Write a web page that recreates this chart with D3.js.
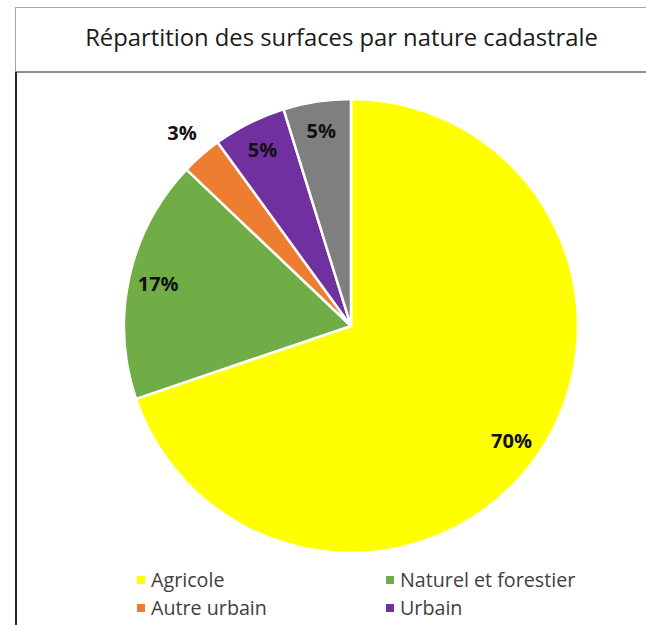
<!DOCTYPE html>
<html>
<head>
<meta charset="utf-8">
<title>Répartition des surfaces par nature cadastrale</title>
<script src="https://d3js.org/d3.v7.min.js"></script>
<style>
  body { margin: 0; background: #fff; }
  svg { display: block; font-family: "Open Sans", Lato, sans-serif; }
</style>
</head>
<body>
<script>

// données
var categories = ["Agricole", "Naturel et forestier", "Autre urbain", "Urbain", "Non cadastré"];
var values = [69.8, 17.3, 2.9, 5.2, 4.8];
var colors = ["#FFFF00", "#70AD47", "#ED7D31", "#7030A0", "#7F7F7F"];
var titleText = "Répartition des surfaces par nature cadastrale";

var W = 646, H = 625;
var cx = 351, cy = 326, R = 227;

var svg = d3.select("body").append("svg")
    .attr("width", W)
    .attr("height", H);

// cadre du titre
svg.append("line").attr("x1", 15).attr("x2", W).attr("y1", 7.5).attr("y2", 7.5)
    .attr("stroke", "#a6a6a6").attr("stroke-width", 1);
svg.append("line").attr("x1", 15.5).attr("x2", 15.5).attr("y1", 7).attr("y2", 72)
    .attr("stroke", "#a6a6a6").attr("stroke-width", 1);
svg.append("line").attr("x1", 15).attr("x2", W).attr("y1", 72).attr("y2", 72)
    .attr("stroke", "#8c8c8c").attr("stroke-width", 2);
// bord gauche de la zone graphique
svg.append("line").attr("x1", 16).attr("x2", 16).attr("y1", 72).attr("y2", H)
    .attr("stroke", "#262626").attr("stroke-width", 2);

svg.append("text")
    .attr("x", 341.5).attr("y", 46)
    .attr("text-anchor", "middle")
    .attr("font-size", 23.8)
    .attr("fill", "#1a1a1a")
    .text(titleText);

var data = categories.map(function (c, i) { return { name: c, value: values[i], color: colors[i] }; });

var pie = d3.pie().sort(null).value(function (d) { return d.value; });
var arc = d3.arc().innerRadius(0).outerRadius(R);
var arcs = pie(data);

var g = svg.append("g").attr("transform", "translate(" + cx + "," + cy + ")");

g.selectAll("path.slice")
    .data(arcs)
    .enter().append("path")
    .attr("class", "slice")
    .attr("d", arc)
    .attr("fill", function (d) { return d.data.color; })
    .attr("stroke", "#fff")
    .attr("stroke-width", 2.5);

// étiquettes de pourcentage
var total = d3.sum(values);
var labelArcIn = d3.arc().innerRadius(R * 0.87).outerRadius(R * 0.87);
var labelArcOut = d3.arc().innerRadius(R * 1.13).outerRadius(R * 1.13);

g.selectAll("text.lbl")
    .data(arcs)
    .enter().append("text")
    .attr("class", "lbl")
    .attr("transform", function (d) {
        var p = (d.data.value / total < 0.04 ? labelArcOut : labelArcIn).centroid(d);
        return "translate(" + p[0] + "," + p[1] + ")";
    })
    .attr("dy", "0.36em")
    .attr("text-anchor", "middle")
    .attr("font-size", 20)
    .attr("font-weight", "bold")
    .attr("fill", "#111")
    .text(function (d) { return Math.round(d.data.value / total * 100) + "%"; });

// légende
var legend = svg.append("g").attr("class", "legend");
var legendItems = legend.selectAll("g")
    .data(data.slice(0, 4))
    .enter().append("g")
    .attr("transform", function (d, i) {
        return "translate(" + (i % 2 ? 386 : 137) + "," + (576 + Math.floor(i / 2) * 28) + ")";
    });
legendItems.append("rect")
    .attr("width", 8).attr("height", 8)
    .attr("fill", function (d) { return d.color; });
legendItems.append("text")
    .attr("x", 14).attr("y", 11)
    .attr("font-size", 19.7)
    .attr("fill", "#404040")
    .text(function (d) { return d.name; });

</script>
</body>
</html>
